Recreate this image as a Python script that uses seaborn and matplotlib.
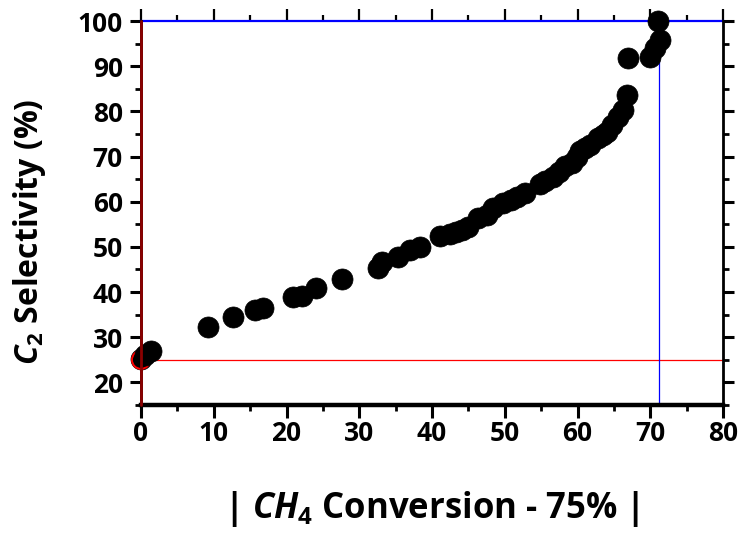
import matplotlib
matplotlib.use("Agg")
import matplotlib.pyplot as plt
from matplotlib.ticker import MultipleLocator
import seaborn as sns
import pandas as pd

# ---- data ----
conv_dev = [0.0, 0.5, 1.4, 9.2, 12.7, 15.7, 16.8, 20.9, 22.1, 24.1, 27.6, 32.6, 33.1,
            35.3, 37.0, 38.4, 41.1, 42.5, 43.3, 44.1, 45.0, 46.3, 47.6, 48.4, 49.8,
            50.8, 51.7, 52.8, 54.8, 55.5, 56.6, 57.5, 58.3, 59.3, 59.9, 60.3, 61.0,
            61.7, 62.8, 63.5, 64.0, 64.7, 65.6, 66.3, 66.8, 67.0, 70.0, 70.7, 71.3, 71.1]
c2_sel = [25.2, 26.0, 26.9, 32.2, 34.4, 36.1, 36.4, 38.8, 39.2, 40.8, 42.8, 45.4, 46.7,
          47.8, 49.4, 50.0, 52.3, 52.8, 53.3, 53.8, 54.5, 56.4, 57.0, 58.6, 59.8,
          60.3, 61.0, 61.9, 64.0, 64.5, 65.5, 66.5, 68.0, 68.6, 69.8, 71.2, 71.8,
          72.6, 74.1, 74.8, 75.5, 77.0, 78.8, 80.3, 83.6, 91.8, 92.0, 94.0, 95.8, 100.0]
ref_x = [0.0]
ref_y = [25.0]
h_line_y = 25.0
v_line_x = 71.2
x_ticks = [0, 10, 20, 30, 40, 50, 60, 70, 80]
y_ticks = [20, 30, 40, 50, 60, 70, 80, 90, 100]

sns.set_style("ticks")
plt.rcParams['font.family'] = ['Open Sans', 'DejaVu Sans']
plt.rcParams['font.weight'] = 'bold'
plt.rcParams['text.color'] = 'black'
plt.rcParams['axes.labelcolor'] = 'black'
plt.rcParams['xtick.color'] = 'black'
plt.rcParams['ytick.color'] = 'black'
plt.rcParams['mathtext.fontset'] = 'custom'
plt.rcParams['mathtext.it'] = 'Open Sans:italic:bold'
plt.rcParams['mathtext.rm'] = 'Open Sans:bold'
plt.rcParams['mathtext.bf'] = 'Open Sans:bold'

df = pd.DataFrame({"x": conv_dev, "y": c2_sel})

fig = plt.figure(figsize=(7.41, 5.33), dpi=100)
ax = fig.add_axes([141/741, 1 - 405/533, (723-141)/741, (405-21)/533])

# reference lines
ax.axhline(h_line_y, color='#ff0000', lw=0.9, zorder=1)
ax.axvline(v_line_x, color='#0000ff', lw=0.9, zorder=1)
ax.axvline(0, color='#8b0000', lw=2.0, zorder=6, clip_on=False)

# first point, then red open circle, then rest
sns.scatterplot(data=df.iloc[:1], x="x", y="y", ax=ax, color='black', s=230,
                edgecolor='black', linewidth=0.5, zorder=3, clip_on=False, legend=False)
ax.scatter(ref_x, ref_y, s=170, facecolors='none', edgecolors='#ff0000',
           linewidths=1.4, zorder=4, clip_on=False)
sns.scatterplot(data=df.iloc[1:], x="x", y="y", ax=ax, color='black', s=230,
                edgecolor='black', linewidth=0.5, zorder=5, clip_on=False, legend=False)

ax.set_xlim(0, 80)
ax.set_ylim(15, 100)
ax.set_xticks(x_ticks)
ax.set_yticks(y_ticks)
ax.xaxis.set_minor_locator(MultipleLocator(5))
ax.yaxis.set_minor_locator(MultipleLocator(5))

for s in ['left', 'bottom', 'right']:
    ax.spines[s].set_color('black')
    ax.spines[s].set_visible(True)
ax.spines['left'].set_linewidth(2.0)
ax.spines['bottom'].set_linewidth(3.2)
ax.spines['right'].set_linewidth(2.0)
ax.spines['top'].set_visible(True)
ax.spines['top'].set_color('#0000ff')
ax.spines['top'].set_linewidth(1.6)
ax.spines['top'].set_zorder(2)

ax.tick_params(axis='both', which='major', direction='out', length=8, width=2.2,
               labelsize=19, colors='black', pad=5)
ax.tick_params(axis='both', which='minor', direction='out', length=4.5, width=2.0, colors='black')
ax.tick_params(axis='x', which='major', length=9, pad=2)
ax.tick_params(axis='x', top=True, which='both', labeltop=False)
ax.tick_params(axis='y', right=True, which='both', labelright=False)

# color top ticks blue
for t in ax.xaxis.get_major_ticks() + ax.xaxis.get_minor_ticks():
    t.tick2line.set_color('#0000ff')
    t.tick2line.set_markeredgewidth(1.6)

for lbl in ax.get_xticklabels() + ax.get_yticklabels():
    lbl.set_fontweight('bold')
    lbl.set_color('black')

ax.set_xlabel(r'| $CH_{\mathrm{4}}$ Conversion - 75% |', fontsize=25, fontweight='bold',
              labelpad=30, color='black')
ax.set_ylabel(r'$C_{\mathrm{2}}$ Selectivity (%)', fontsize=23, fontweight='bold',
              color='black')
ax.yaxis.set_label_coords(-0.16, 0.45)

fig.savefig('out.png', dpi=100)
